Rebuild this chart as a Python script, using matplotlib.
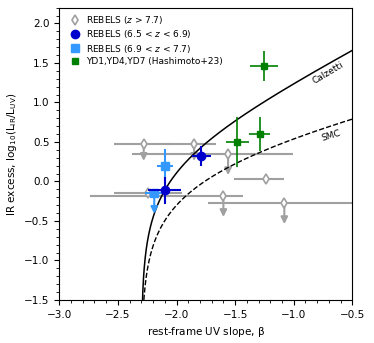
import numpy as np
import matplotlib
matplotlib.use('Agg')
from matplotlib import pyplot as plt

# REBELS z > 7.7 (grey, upper limits mostly)
g_beta = [-2.28, -1.85, -1.56, -1.24, -1.60, -1.08, -2.24]
g_irx = [0.48, 0.48, 0.35, 0.03, -0.18, -0.27, -0.14]
g_xlo = [0.25, 0.23, 0.82, 0.27, 1.14, 0.65, 0.29]
g_xhi = [0.25, 0.19, 0.55, 0.16, 0.17, 0.75, 0.29]
g_ylen = [0.22, 0.22, 0.27, 0.0, 0.27, 0.27, 0.0]

# REBELS 6.5 < z < 6.9
b_beta = [-1.79, -2.10]
b_irx = [0.32, -0.11]
b_xerr = [0.08, 0.14]
b_yerr = [0.13, 0.17]

# REBELS 6.9 < z < 7.7
lb_beta = [-2.10, -2.19]
lb_irx = [0.19, -0.14]
lb_xerr = [0.07, 0.08]
lb_yerr = [0.22, 0.0]
lb_ylen = [0.0, 0.27]

# Hashimoto+23
h_beta = [-1.25, -1.48, -1.29]
h_irx = [1.46, 0.50, 0.60]
h_xerr = [0.12, 0.10, 0.09]
h_yerr = [0.19, 0.32, 0.22]

plt.rcParams['font.size'] = 7.5
fig = plt.figure(figsize=(3.74, 3.43), dpi=100)
ax = fig.add_axes([0.1586, 0.1254, 0.7834, 0.8522])


def limit_arrows(xs, ys, lens, color, z):
    for x, y, l in zip(xs, ys, lens):
        if l > 0:
            ax.annotate('', xy=(x, y - l), xytext=(x, y),
                        arrowprops=dict(arrowstyle='-|>', color=color, lw=1.5,
                                        mutation_scale=10, shrinkA=0, shrinkB=0),
                        zorder=z)


grey = '#a0a0a0'
ax.errorbar(g_beta, g_irx, xerr=[g_xlo, g_xhi], fmt='none', ecolor=grey,
            elinewidth=1.5, zorder=1)
limit_arrows(g_beta, g_irx, g_ylen, grey, 1)
ax.plot(g_beta, g_irx, ls='none', marker='d', ms=5, mfc='white', mec=grey,
        mew=1.2, zorder=2, label=r'REBELS ($z$ > 7.7)')

# IRX-beta relations
beta = np.linspace(-2.2999, -0.5, 600)
calz = np.log10(1.75 * (10 ** (0.4 * 1.99 * (beta + 2.3)) - 1))
smc = np.log10(1.75 * (10 ** (0.4 * 0.91 * (beta + 2.3)) - 1))
ax.plot(beta, calz, color='k', lw=1.1, zorder=3)
ax.plot(beta, smc, color='k', lw=1.0, ls='--', zorder=3)
ax.text(-0.71, 1.37, 'Calzetti', rotation=31, fontsize=6.5, ha='center', va='center')
ax.text(-0.68, 0.58, 'SMC', rotation=17, fontsize=6.5, ha='center', va='center')

ax.errorbar(b_beta, b_irx, xerr=b_xerr, yerr=b_yerr, fmt='none',
            ecolor='#0000cc', elinewidth=1.5, zorder=5)
ax.plot(b_beta, b_irx, ls='none', marker='o', ms=6, color='#0000cc',
        zorder=6, label=r'REBELS (6.5 < $z$ < 6.9)')

ax.errorbar(lb_beta, lb_irx, xerr=lb_xerr, yerr=lb_yerr,
            fmt='none', ecolor='#3399ff', elinewidth=1.5, zorder=4)
limit_arrows(lb_beta, lb_irx, lb_ylen, '#3399ff', 4)
ax.plot(lb_beta, lb_irx, ls='none', marker='s', ms=6, color='#3399ff',
        zorder=4, label=r'REBELS (6.9 < $z$ < 7.7)')

ax.errorbar(h_beta, h_irx, xerr=h_xerr, yerr=h_yerr, fmt='none',
            ecolor='green', elinewidth=1.2, zorder=5)
ax.plot(h_beta, h_irx, ls='none', marker='s', ms=4, color='green',
        zorder=6, label='YD1,YD4,YD7 (Hashimoto+23)')

ax.set_xlim(-3.0, -0.5)
ax.set_ylim(-1.5, 2.2)
ax.set_xticks([-3.0, -2.5, -2.0, -1.5, -1.0, -0.5])
ax.set_yticks([-1.5, -1.0, -0.5, 0.0, 0.5, 1.0, 1.5, 2.0])
ax.minorticks_on()
ax.set_xlabel(r'rest-frame UV slope, $\mathrm{\beta}$')
ax.set_ylabel(r'IR excess, log$_{10}$(L$_{\rm IR}$/L$_{\rm UV}$)')

ax.legend(loc='upper left', frameon=False, fontsize=6.5, handletextpad=0.3,
          borderaxespad=0.3, labelspacing=0.25)

fig.savefig('out.png', dpi=100)
